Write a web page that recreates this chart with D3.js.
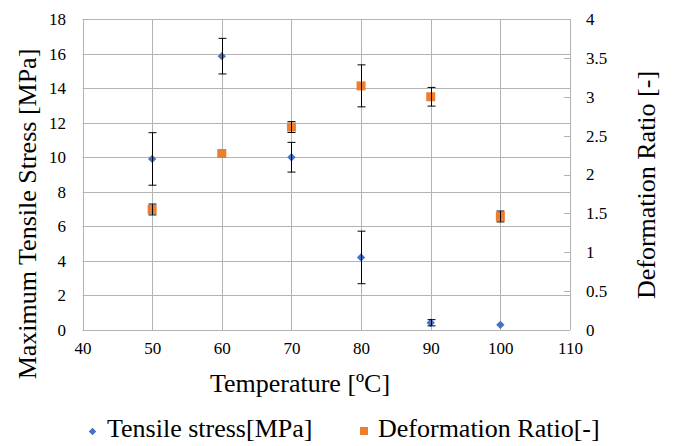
<!DOCTYPE html>
<html>
<head>
<meta charset="utf-8">
<script src="https://cdn.jsdelivr.net/npm/d3@7"></script>
<style>
  body { margin: 0; background: #fff; }
</style>
</head>
<body>
<div class="chart"></div>
<script>
// temperatures [ºC]
const temps = [50, 60, 70, 80, 90, 100];
// tensile stress [MPa] and its error
const stress = [9.9, 15.85, 10.0, 4.2, 0.42, 0.3];
const stressErr = [1.52, 1.03, 0.86, 1.52, 0.18, 0];
// deformation ratio [-] and its error
const ratio = [1.55, 2.27, 2.61, 3.14, 3.0, 1.46];
const ratioErr = [0.07, 0, 0.07, 0.27, 0.12, 0.07];

const xTicks = [40, 50, 60, 70, 80, 90, 100, 110];
const yTicks = [0, 2, 4, 6, 8, 10, 12, 14, 16, 18];
const y2Ticks = [0, 0.5, 1, 1.5, 2, 2.5, 3, 3.5, 4];

const width = 676, height = 446;
const plot = {left: 82.5, right: 570, top: 19, bottom: 330};
const serif = "'Liberation Serif', serif";

const svg = d3.select(".chart").append("svg")
    .attr("width", width)
    .attr("height", height);

const xScale = d3.scaleLinear().domain([40, 110]).range([plot.left, plot.right]);
const yScale = d3.scaleLinear().domain([0, 18]).range([plot.bottom, plot.top]);
const y2Scale = d3.scaleLinear().domain([0, 4]).range([plot.bottom, plot.top]);

const gridColor = "#b3b3b3";

// grid lines
svg.append("g").selectAll("line")
    .data(yTicks)
    .join("line")
    .attr("x1", plot.left).attr("x2", plot.right)
    .attr("y1", d => Math.round(yScale(d)) + 0.5)
    .attr("y2", d => Math.round(yScale(d)) + 0.5)
    .attr("stroke", gridColor);

svg.append("g").selectAll("line")
    .data(xTicks)
    .join("line")
    .attr("x1", d => Math.round(xScale(d)) + 0.5)
    .attr("x2", d => Math.round(xScale(d)) + 0.5)
    .attr("y1", plot.top).attr("y2", plot.bottom)
    .attr("stroke", gridColor);

function styleAxis(g) {
    g.attr("font-size", 17);
    g.select(".domain").remove();
    g.selectAll("text").attr("fill", "#000");
}

// left axis labels
svg.append("g")
    .attr("transform", "translate(66,0)")
    .call(d3.axisLeft(yScale).tickValues(yTicks).tickSize(0).tickPadding(0))
    .call(styleAxis);

// x axis labels
svg.append("g")
    .attr("transform", "translate(0,342)")
    .call(d3.axisBottom(xScale).tickValues(xTicks).tickSize(0).tickPadding(0))
    .call(styleAxis);

// right axis: short inner ticks plus labels
svg.append("g")
    .attr("transform", "translate(586,0)")
    .call(d3.axisRight(y2Scale).tickValues(y2Ticks).tickFormat(d => String(d)).tickSize(0).tickPadding(0))
    .call(styleAxis);

svg.append("g").selectAll("line")
    .data(y2Ticks)
    .join("line")
    .attr("x1", plot.right - 6).attr("x2", plot.right)
    .attr("y1", d => Math.round(y2Scale(d)) + 0.5)
    .attr("y2", d => Math.round(y2Scale(d)) + 0.5)
    .attr("stroke", gridColor);

// error bars
function errorBars(vals, errs, scale) {
    const g = svg.append("g").attr("stroke", "#000").attr("stroke-width", 1);
    vals.forEach((v, i) => {
        if (!errs[i]) return;
        const x = Math.round(xScale(temps[i])) + 0.5;
        const y1 = scale(v + errs[i]), y2 = scale(v - errs[i]);
        g.append("line").attr("x1", x).attr("x2", x).attr("y1", y1).attr("y2", y2);
        g.append("line").attr("x1", x - 4).attr("x2", x + 4).attr("y1", y1).attr("y2", y1);
        g.append("line").attr("x1", x - 4).attr("x2", x + 4).attr("y1", y2).attr("y2", y2);
    });
}

// deformation ratio squares
svg.append("g").selectAll("rect")
    .data(ratio)
    .join("rect")
    .attr("x", (d, i) => xScale(temps[i]) - 4.5)
    .attr("y", d => y2Scale(d) - 4.5)
    .attr("width", 9).attr("height", 9)
    .attr("fill", "#ed7d31");
errorBars(ratio, ratioErr, y2Scale);

// tensile stress diamonds
const diamond = d3.symbol().type(d3.symbolDiamond2).size(44);
svg.append("g").selectAll("path")
    .data(stress)
    .join("path")
    .attr("transform", (d, i) => `translate(${xScale(temps[i])},${yScale(d)})`)
    .attr("d", diamond)
    .attr("fill", "#4472c4");
errorBars(stress, stressErr, yScale);

// titles
svg.append("text")
    .attr("transform", "translate(27,214) rotate(-90)")
    .attr("text-anchor", "middle")
    .attr("dominant-baseline", "central")
    .attr("font-size", 26)
    .text("Maximum Tensile Stress [MPa]");

svg.append("text")
    .attr("transform", "translate(646,185) rotate(-90)")
    .attr("text-anchor", "middle")
    .attr("dominant-baseline", "central")
    .attr("font-size", 26)
    .text("Deformation Ratio [-]");

svg.append("text")
    .attr("x", 300).attr("y", 392)
    .attr("text-anchor", "middle")
    .attr("font-size", 26)
    .text("Temperature [ºC]");

// legend
const legend = svg.append("g");
legend.append("path")
    .attr("transform", "translate(92.5,431.5)")
    .attr("d", d3.symbol().type(d3.symbolDiamond2).size(36))
    .attr("fill", "#4472c4");
legend.append("text")
    .attr("x", 107).attr("y", 437)
    .attr("font-size", 26)
    .text("Tensile stress[MPa]");
legend.append("rect")
    .attr("x", 360).attr("y", 427)
    .attr("width", 8).attr("height", 8)
    .attr("fill", "#ed7d31");
legend.append("text")
    .attr("x", 378).attr("y", 437)
    .attr("font-size", 26)
    .text("Deformation Ratio[-]");

// serif face for every label
svg.selectAll("text").style("font-family", serif, "important");
</script>
</body>
</html>
